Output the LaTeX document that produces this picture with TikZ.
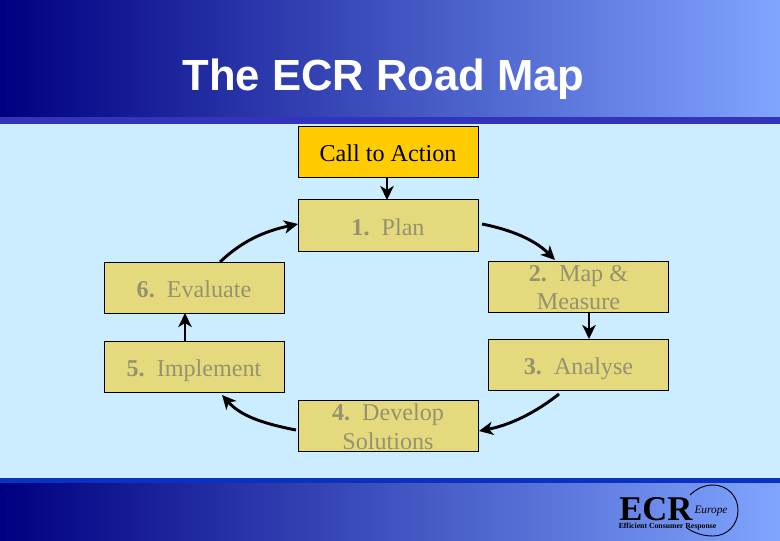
\documentclass[tikz,border=0pt]{standalone}
\usepackage{fontspec}
\setmainfont{Liberation Serif}
\newfontfamily\titlefont{Liberation Sans}
\usetikzlibrary{arrows.meta}
\definecolor{navyL}{RGB}{0,0,128}
\definecolor{navyR}{RGB}{128,165,255}
\definecolor{skybg}{RGB}{204,236,255}
\definecolor{stripT}{RGB}{51,51,190}
\definecolor{stripB}{RGB}{10,50,190}
\definecolor{boxy}{RGB}{228,218,125}
\definecolor{boxo}{RGB}{255,204,0}
\definecolor{dimtxt}{RGB}{150,146,112}
\newcommand{\oneline}[1]{\raisebox{-1pt}[\height][0pt]{#1}}
\newcommand{\twoline}[1]{\raisebox{-0.3pt}[\height][0pt]{#1}}
\tikzset{
  x=0.75pt,y=-0.75pt,
  stepbox/.style={draw=black,line width=0.7pt,fill=boxy,text=dimtxt,minimum width=135pt,minimum height=38.5pt,inner sep=0pt,align=center,font=\fontsize{18.1pt}{21.5pt}\selectfont},
  flow/.style={line width=2.2pt,-{Stealth[length=10.5pt,width=10pt,inset=3pt]},black},
}
\begin{document}
\begin{tikzpicture}
\useasboundingbox (0,0) rectangle (780,540);
\fill[skybg] (0,0) rectangle (780,540);
\shade[left color=navyL,right color=navyR] (0,0) rectangle (780,117);
\fill[stripT] (0,117) rectangle (780,123.5);
\fill[stripB] (0,478) rectangle (780,483);
\shade[left color=navyL,right color=navyR] (0,483) rectangle (780,540);
\node[text=white,font=\titlefont\bfseries\fontsize{32.7pt}{38pt}\selectfont] (title) at (383.5,79) {The ECR Road Map};
\node[stepbox,fill=boxo,text=black] (call) at (388,152) {\oneline{Call to Action}};
\node[stepbox] (plan) at (388,225.5) {\oneline{\textbf{1.}\ \ Plan}};
\node[stepbox] (eval) at (194,288) {\oneline{\textbf{6.}\ \ Evaluate}};
\node[stepbox] (map) at (578.5,287) {\twoline{\textbf{2.}\ \ Map \&}\\\twoline{Measure}};
\node[stepbox] (impl) at (194,367) {\oneline{\textbf{5.}\ \ Implement}};
\node[stepbox] (anal) at (578.5,365) {\oneline{\textbf{3.}\ \ Analyse}};
\node[stepbox] (dev) at (388,426) {\twoline{\textbf{4.}\ \ Develop}\\\twoline{Solutions}};
% connectors
\coordinate (planR) at (482,224);
\coordinate (mapT) at (555,260);
\coordinate (analB) at (559,394);
\coordinate (devL) at (296,430);
\coordinate (implB) at (222,395);
\coordinate (evalT) at (220,262);
\coordinate (callB) at (387,177);
\coordinate (planT) at (387,200);
\coordinate (mapB) at (589,312);
\coordinate (analT) at (589,339);
\coordinate (implT) at (185,341);
\coordinate (evalB) at (185,313);
\coordinate (devR) at (479,431);
\coordinate (planL) at (298,224);
\draw[flow] (callB) -- (planT);
\draw[flow] (mapB) -- (analT);
\draw[flow] (implT) -- (evalB);
\draw[flow] (planR) .. controls (512,230) and (535,240) .. (mapT);
\draw[flow] (analB) .. controls (535,413) and (510,425) .. (devR);
\draw[flow] (devL) .. controls (260,423) and (240,415) .. (implB);
\draw[flow] (evalT) .. controls (245,238) and (270,230) .. (planL);
% logo
\node[font=\bfseries\fontsize{26pt}{26pt}\selectfont,text=black,inner sep=0pt,anchor=base west] (ecr) at (619,520) {ECR};
\node[font=\itshape\fontsize{8.5pt}{9pt}\selectfont,text=black,inner sep=0pt] (eur) at (711,511) {Europe};
\node[font=\bfseries\fontsize{5.8pt}{6pt}\selectfont,text=black,inner sep=0pt] (eff) at (667.5,527) {Efficient Consumer Response};
\draw[black,line width=0.7pt] (690,495) .. controls (696,489) and (704,485) .. (713,485) .. controls (727,485) and (738,496) .. (738,510) .. controls (738,525) and (727,536) .. (713,536) .. controls (703,536) and (694,533) .. (687,528);
\end{tikzpicture}
\end{document}
